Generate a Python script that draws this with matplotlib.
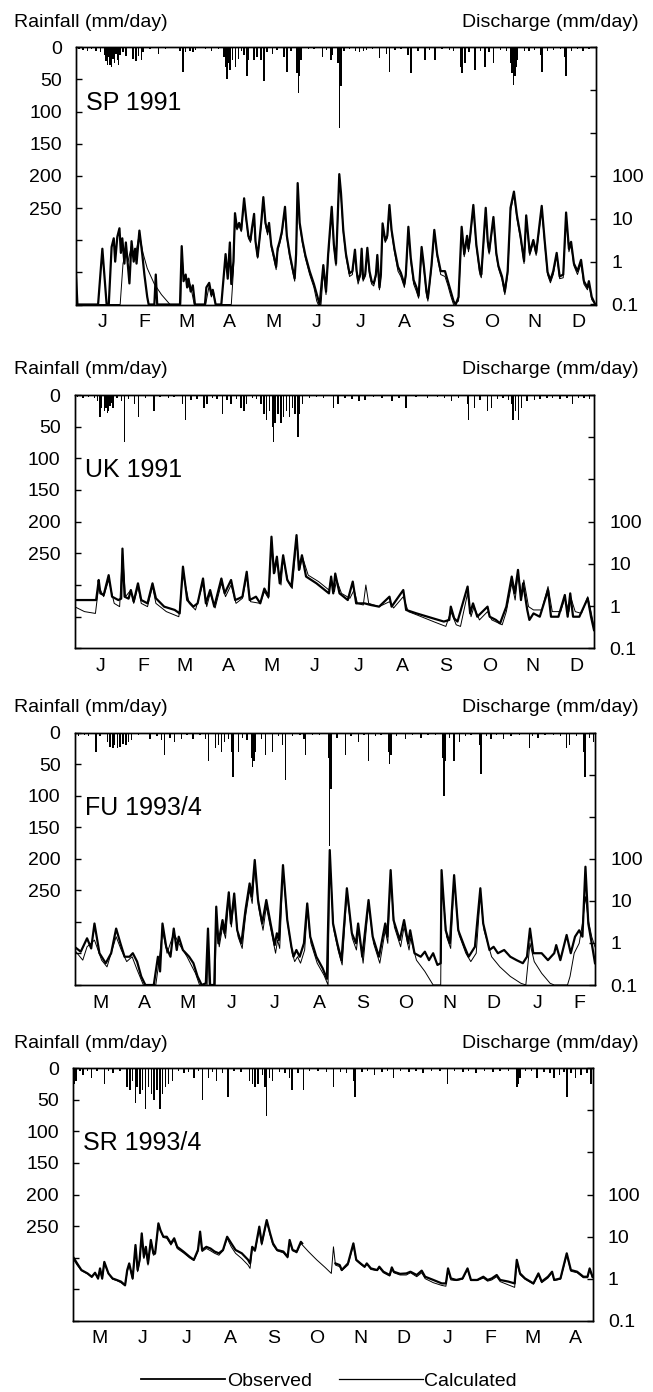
import numpy as np
import matplotlib.pyplot as plt
from matplotlib.ticker import NullLocator
from matplotlib.lines import Line2D

plt.rcParams['font.family'] = ['Liberation Sans', 'DejaVu Sans']

# ---------------- data: (day, discharge mm/day) and (day, rainfall mm/day) ----------------
sp_obs = [(0, 0.5), (1, 0.1), (15.5, 0.1), (18.5, 2.0), (21.5, 0.1), (23, 0.1), (25, 2.2), (26.5, 3.5),
          (27.5, 1.0), (29, 3.8), (30.5, 6.0), (31.5, 1.6), (32.5, 3.5), (34, 0.9), (35, 2.8), (36, 1.2),
          (37.5, 0.31), (39, 3.0), (40.5, 1.0), (41.5, 2.0), (42.5, 0.9), (44.5, 5.3), (46.5, 1.5), (48, 0.5),
          (50, 0.15), (51, 0.1), (55, 0.1), (56, 0.5), (57, 0.1), (73, 0.1), (74.2, 2.3), (75.5, 0.35),
          (77, 0.5), (78, 0.25), (79, 0.4), (80.5, 0.2), (82, 0.28), (83.5, 0.1), (90.5, 0.1), (91.5, 0.25),
          (93.5, 0.32), (95, 0.17), (96, 0.22), (98, 0.1), (102, 0.1), (104, 0.6), (105, 1.5), (106.5, 0.4),
          (108, 2.8), (109, 0.3), (110.5, 1.0), (111.6, 13.5), (113, 6), (114.5, 8), (116, 5.5), (118, 30),
          (119.5, 10), (121, 4), (122.5, 3.2), (123.5, 6), (125, 13), (126, 3), (127.5, 1.3), (129, 4),
          (130, 8), (131.5, 32), (133, 8), (134.5, 5), (135.5, 8), (137, 2.5), (139, 1.3), (140.5, 0.76),
          (141.5, 2), (143, 3), (144.5, 5), (146.7, 19), (148, 4), (150, 1.5), (152, 0.7), (153.5, 0.41),
          (154.5, 1.5), (155.6, 68), (157, 8), (159, 3), (161, 1.4), (164, 0.6), (167, 0.3), (170, 0.13),
          (171, 0.1), (173.6, 0.83), (175.5, 0.2), (177, 1.5), (179.5, 19), (181, 2.5), (182.5, 0.9),
          (184.8, 110), (186, 40), (187.6, 5.5), (189.5, 1.5), (192, 0.53), (194, 0.6), (195.8, 1.9),
          (197, 0.6), (198, 0.37), (199.5, 0.5), (200.5, 2.0), (201.5, 0.4), (203, 0.5), (204.5, 2.1),
          (206, 0.6), (207.5, 0.35), (209, 0.31), (210.5, 0.5), (211.5, 1.43), (213, 0.25), (214, 0.5),
          (215.2, 7.8), (217, 3.2), (218.5, 4.0), (220, 21), (221.5, 5.5), (223.5, 2.0), (226, 0.76),
          (228, 0.55), (230.5, 0.3), (231.5, 0.5), (233.3, 6.5), (235, 1.2), (237, 0.37), (239, 0.25),
          (240.5, 0.16), (242.6, 2.2), (244, 0.9), (246, 0.2), (247, 0.14), (249.5, 0.8), (251.5, 5.5),
          (253.5, 1.5), (256, 0.6), (259, 0.6), (261, 0.35), (263, 0.2), (265, 0.12), (266.5, 0.1),
          (268.5, 0.15), (270.7, 6.5), (272.5, 1.5), (274.5, 4.0), (275.5, 2.0), (276.5, 3.5), (278.9, 21),
          (281, 2.5), (283.5, 0.6), (284.5, 0.5), (287.6, 18), (289, 3), (290, 1.7), (293, 11), (295, 1.6),
          (296.5, 0.8), (299, 0.45), (301, 0.2), (303, 0.6), (305, 18), (307.4, 43), (309.5, 12), (312, 4),
          (314.5, 1.03), (316, 12), (318.5, 1.6), (321, 3.2), (323, 1.6), (326.9, 20), (329, 3), (331, 0.57),
          (333, 0.37), (335, 0.6), (337.4, 1.6), (339.5, 0.45), (342, 0.5), (344, 14), (346, 2.0),
          (347.5, 2.9), (349.5, 0.9), (352, 0.6), (354.5, 1.1), (356.5, 0.35), (359, 0.25), (360, 0.35),
          (362, 0.15), (364.5, 0.1)]

sp_calc = [(0, 0.1), (31, 0.1), (33, 0.9), (35, 1.8), (36.5, 1.0), (39, 2.4), (40.5, 1.1), (42, 1.6),
           (44.5, 4.5), (47, 1.6), (50, 0.7), (55, 0.3), (60, 0.17), (66, 0.1), (73.5, 0.1), (74.3, 1.8),
           (75.5, 0.4), (77, 0.45), (78.5, 0.25), (80, 0.3), (81.5, 0.18), (83, 0.1), (91, 0.1), (93.5, 0.28),
           (95, 0.15), (96.5, 0.2), (98, 0.1), (109, 0.1), (110.5, 0.6), (111.6, 11), (113, 5.5), (114.5, 7),
           (116, 5), (118, 26), (119.5, 9), (121, 3.5), (122.5, 2.8), (123.5, 5), (125, 11), (126, 2.7),
           (127.5, 1.2), (129, 3.5), (130, 7), (131.5, 28), (133, 7), (134.5, 4.2), (135.5, 7), (137, 2.2),
           (139, 1.1), (140.5, 0.65), (141.5, 1.7), (143, 2.6), (144.5, 4.3), (146.7, 16), (148, 3.6),
           (150, 1.3), (152, 0.6), (153.5, 0.35), (154.5, 1.2), (155.6, 60), (157, 7), (159, 2.6), (161, 1.2),
           (164, 0.5), (167, 0.25), (169, 0.12), (170, 0.1), (172, 0.1), (173.6, 0.6), (175.5, 0.17),
           (177, 1.2), (179.5, 16), (181, 2.2), (182.5, 0.8), (184.8, 95), (186, 35), (187.6, 4.8),
           (189.5, 1.3), (192, 0.45), (194, 0.5), (195.8, 1.6), (197, 0.5), (198, 0.3), (199.5, 0.45),
           (200.5, 1.7), (201.5, 0.35), (203, 0.45), (204.5, 1.8), (206, 0.5), (207.5, 0.3), (209, 0.27),
           (210.5, 0.45), (211.5, 1.2), (213, 0.22), (214, 0.45), (215.2, 7), (217, 2.8), (218.5, 3.5),
           (220, 18), (221.5, 4.8), (223.5, 1.7), (226, 0.6), (228, 0.45), (230.5, 0.25), (231.5, 0.45),
           (233.3, 5.5), (235, 1.0), (237, 0.3), (239, 0.2), (240.5, 0.14), (242.6, 1.8), (244, 0.75),
           (246, 0.17), (247, 0.12), (249.5, 0.7), (251.5, 4.8), (253.5, 1.3), (256, 0.5), (259, 0.45),
           (261, 0.28), (263, 0.16), (265, 0.1), (268.5, 0.12), (270.7, 5.5), (272.5, 1.3), (274.5, 3.4),
           (275.5, 1.7), (276.5, 3.0), (278.9, 18), (281, 2.2), (283.5, 0.5), (284.5, 0.42), (287.6, 15),
           (289, 2.6), (290, 1.5), (293, 9.5), (295, 1.4), (296.5, 0.7), (299, 0.38), (301, 0.17), (303, 0.5),
           (305, 15), (307.4, 38), (309.5, 10), (312, 3.4), (314.5, 0.9), (316, 10), (318.5, 1.4), (321, 2.8),
           (323, 1.4), (326.9, 17), (329, 2.6), (331, 0.5), (333, 0.32), (335, 0.5), (337.4, 1.4),
           (339.5, 0.4), (342, 0.42), (344, 12), (346, 1.7), (347.5, 2.5), (349.5, 0.8), (352, 0.5),
           (354.5, 0.9), (356.5, 0.3), (359, 0.22), (360, 0.3), (362, 0.13), (364.5, 0.1)]

sp_rain = [(2, 3), (5, 4), (8, 6), (11, 3), (14, 5), (17, 8), (20, 12), (21, 22), (22, 28), (23, 15),
           (24, 27), (25, 30), (26, 18), (27, 25), (28, 10), (29, 20), (30, 28), (31, 12), (33, 8), (35, 14),
           (40, 18), (42, 22), (44, 14), (46, 20), (47, 8), (52, 3), (58, 10), (63, 2), (73, 5), (75, 38),
           (77, 8), (80, 6), (82, 8), (84, 4), (91, 3), (95, 5), (100, 2), (104, 15), (105, 30), (106, 50),
           (107, 25), (108, 35), (110, 20), (112, 30), (114, 18), (116, 6), (118, 12), (120, 45), (121, 20),
           (125, 20), (127, 15), (130, 20), (132, 53), (134, 8), (138, 10), (141, 4), (146, 15), (148, 38),
           (151, 5), (155, 40), (156, 71), (157, 45), (158, 20), (163, 3), (167, 2), (173, 15), (176, 4),
           (179, 20), (180, 12), (184, 25), (185, 126), (186, 60), (188, 6), (192, 3), (196, 6), (199, 8),
           (202, 5), (204, 4), (208, 3), (213, 17), (218, 10), (220, 38), (224, 4), (228, 3), (233, 12),
           (235, 40), (240, 5), (245, 20), (248, 4), (252, 20), (257, 3), (262, 4), (265, 6), (270, 30),
           (271, 40), (273, 25), (276, 8), (280, 35), (284, 6), (287, 30), (290, 8), (293, 25), (298, 4),
           (302, 5), (305, 25), (306, 40), (307, 58), (308, 45), (309, 30), (310, 20), (315, 6), (318, 5),
           (322, 4), (326, 12), (327, 38), (331, 5), (335, 4), (340, 3), (343, 15), (344, 45), (348, 6),
           (352, 3), (356, 5), (360, 3)]

uk_obs = [(0, 1.39), (15.2, 1.39), (16.4, 2.8), (17, 4.15), (18.2, 2.0), (20.5, 1.83), (24, 5.4),
          (26.4, 1.67), (30.8, 1.39), (32.8, 1.5), (33.7, 23), (35.2, 1.67), (38, 1.5), (39.6, 2.4),
          (41.6, 1.27), (44.6, 3.46), (46.9, 1.39), (51.3, 1.16), (54.8, 3.46), (57.2, 1.53), (63, 0.97),
          (70.4, 0.81), (73.9, 0.67), (76.2, 8.6), (79.2, 1.39), (83.5, 0.97), (86.5, 1.16), (90.3, 4.5),
          (92.3, 1.16), (95.3, 2.4), (98.2, 0.97), (103.2, 4.5), (105.5, 2.0), (110, 4.15), (112.9, 1.39),
          (115.8, 1.53), (118, 1.67), (121, 6.5), (123.1, 1.39), (127.5, 1.67), (130.5, 1.16), (133.4, 2.6),
          (136.3, 1.67), (138.4, 44), (140.1, 6.0), (142.2, 14.8), (144.2, 3.46), (146.6, 16), (149.5, 4.15),
          (152.4, 2.9), (156, 48), (157.7, 7.2), (159.8, 16), (162.7, 5.0), (170, 3.46), (178.8, 2.0),
          (180.3, 5.0), (181.8, 2.0), (183.2, 5.9), (186.2, 2.0), (192, 1.39), (195.5, 3.8), (197.9, 1.16),
          (203.8, 1.16), (208.2, 1.06), (214, 0.97), (221.3, 1.67), (222.8, 0.97), (231, 2.4), (233, 0.81),
          (240.4, 0.67), (252.1, 0.51), (259.5, 0.43), (263.3, 0.47), (264.4, 0.97), (266.8, 0.51),
          (269.1, 0.43), (276.2, 2.9), (278, 0.67), (280, 1.16), (283, 0.56), (290.2, 0.97), (291.7, 0.56),
          (296.1, 0.47), (299, 0.39), (303.4, 0.97), (307.2, 5.0), (309.3, 2.0), (311.6, 7.2), (313.7, 1.39),
          (315.2, 3.46), (318.1, 0.81), (319.6, 0.47), (322.5, 0.67), (326.9, 0.56), (332.7, 2.4),
          (334.8, 0.56), (340, 0.56), (344.5, 1.83), (346.5, 0.56), (348.3, 2.0), (350.3, 0.56), (354.7, 0.56),
          (360.6, 1.53), (362.9, 0.56), (365, 0.27)]

uk_calc = [(0, 0.97), (7, 0.74), (14.7, 0.67), (17, 2.9), (20.5, 1.67), (24, 4.15), (27.9, 1.16),
           (31.7, 0.97), (33.7, 18), (35.8, 1.67), (39.6, 2.4), (41.6, 1.16), (44.6, 2.9), (46.9, 1.16),
           (51.3, 0.97), (54.8, 2.9), (57.2, 1.16), (64.5, 0.74), (73.3, 0.56), (76.2, 5.9), (80.6, 1.16),
           (85, 0.81), (90.3, 3.46), (92.9, 0.97), (95.3, 2.0), (98.8, 0.9), (103.2, 3.46), (106.1, 1.67),
           (110, 3.16), (113.5, 1.16), (118, 1.53), (121, 5.0), (123.7, 1.27), (130.5, 1.16), (133.4, 2.2),
           (136.3, 1.53), (138.4, 31), (140.7, 6), (142.2, 12), (145.1, 3.16), (146.6, 13), (150.1, 3.8),
           (153, 2.6), (156, 37), (158.3, 7.2), (160.1, 14.8), (164.2, 5.4), (171.5, 3.8), (178.8, 2.4),
           (180.3, 4.5), (182.6, 2.2), (184.1, 4.15), (187.6, 2.0), (193.5, 1.53), (196.4, 2.4),
           (198.8, 1.16), (202.9, 1.06), (204.7, 3.16), (206.7, 1.16), (214, 0.97), (221.3, 1.27),
           (224.2, 0.9), (231, 1.67), (234.5, 0.74), (240.4, 0.62), (252.1, 0.43), (260.9, 0.33),
           (264.4, 0.74), (268.2, 0.36), (271.2, 0.33), (276.2, 2.0), (278.6, 0.56), (280.7, 0.97),
           (284.5, 0.47), (290.2, 0.74), (293.2, 0.47), (300.5, 0.36), (303.4, 0.74), (307.2, 3.46),
           (309.6, 1.39), (311.6, 6.0), (314.2, 1.67), (315.7, 4.15), (319, 0.97), (322.5, 0.81),
           (328.3, 0.81), (332.7, 2.9), (335.7, 0.74), (341.6, 0.74), (344.5, 1.53), (347.4, 0.74),
           (348.9, 1.53), (351.8, 0.74), (356.2, 0.67), (360.6, 1.67), (362.9, 0.74), (365, 0.33)]

uk_rain = [(2, 3), (6, 4), (10, 3), (14, 5), (16, 10), (18, 35), (19, 20), (21, 25), (22, 20), (23, 28),
           (24, 25), (25, 18), (26, 12), (27, 20), (30, 5), (33, 10), (35, 74), (38, 6), (42, 15), (45, 35),
           (50, 4), (56, 25), (60, 3), (66, 4), (70, 3), (76, 15), (78, 40), (82, 8), (86, 6), (91, 20),
           (93, 15), (97, 5), (100, 6), (104, 30), (107, 8), (110, 15), (114, 6), (117, 20), (119, 25),
           (121, 15), (125, 4), (128, 6), (131, 15), (133, 30), (135, 40), (137, 25), (139, 50), (140, 74),
           (141, 45), (143, 30), (145, 45), (147, 35), (149, 25), (151, 35), (153, 20), (155, 30), (157, 66),
           (158, 30), (160, 15), (165, 4), (170, 3), (175, 5), (182, 20), (185, 15), (190, 4), (195, 6),
           (200, 10), (204, 8), (210, 3), (216, 5), (223, 10), (228, 4), (233, 20), (240, 3), (248, 4),
           (255, 3), (260, 5), (265, 10), (270, 4), (276, 15), (277, 40), (281, 20), (285, 8), (290, 25),
           (293, 20), (297, 6), (301, 5), (305, 8), (307, 15), (308, 40), (310, 25), (312, 40), (314, 20),
           (318, 10), (323, 8), (327, 6), (332, 5), (336, 4), (341, 6), (346, 5), (350, 15), (354, 5),
           (358, 4), (362, 6)]

fu_obs = [(0, 0.81), (4.4, 0.62), (8.8, 1.29), (11.7, 0.74), (14, 2.9), (17.5, 0.57), (21.9, 0.33),
          (25.7, 0.57), (29.2, 2.2), (32.2, 0.98), (35.1, 0.47), (38.6, 0.47), (40.9, 0.57), (43.9, 0.36),
          (46.8, 0.16), (49.7, 0.1), (55.6, 0.1), (58.5, 0.47), (60, 0.21), (61.7, 2.9), (64.3, 0.81),
          (67.3, 0.47), (69.6, 2.2), (71.7, 0.68), (73.1, 1.41), (76, 0.68), (80.4, 0.47), (83.4, 0.33),
          (86.3, 0.16), (89.2, 0.1), (92.1, 0.11), (93.6, 2.2), (95.1, 0.1), (98, 0.1), (99.4, 7.3),
          (100.9, 0.98), (103.8, 3.5), (105.3, 1.7), (108.2, 16), (109.7, 2.9), (112, 15), (114.1, 2.0),
          (117, 0.98), (119.9, 6.1), (122.8, 26), (124.3, 12.6), (126.4, 94), (128.7, 10.5), (131.6, 2.9),
          (134.5, 10.5), (137.5, 2.9), (140.4, 0.89), (141.9, 1.7), (143.3, 1.17), (146.2, 71), (149.2, 3.5),
          (152.1, 0.81), (153.6, 0.47), (155.6, 0.68), (157.9, 0.47), (160.9, 0.98), (163.2, 8.7),
          (165.3, 1.41), (169.6, 0.47), (174, 0.25), (177, 0.14), (179, 162), (181.3, 2.9), (184.3, 0.98),
          (187.2, 0.39), (191, 20), (194.5, 1.7), (197.4, 0.98), (198.9, 2.9), (201.8, 0.47), (206.2, 10.5),
          (209.1, 1.41), (213.5, 0.47), (217.9, 2.9), (219.4, 1.41), (221.7, 54), (223.7, 3.5), (228.1, 1.17),
          (231.1, 3.5), (234, 0.98), (235.4, 2.0), (238.4, 0.57), (242.8, 0.47), (245.7, 0.62), (248.6, 0.39),
          (251.5, 0.57), (254.5, 0.3), (256.8, 0.33), (257.4, 54), (260.3, 2.0), (263.2, 0.98), (266.2, 41),
          (269.1, 2.0), (273.5, 0.81), (276.4, 0.47), (280.8, 0.81), (284.6, 20), (286.6, 2.9), (291, 0.68),
          (293.9, 0.81), (296.9, 0.57), (301.3, 0.68), (305.6, 0.47), (310, 0.39), (314.4, 0.33),
          (317.3, 0.47), (319.4, 2.2), (321.7, 0.57), (327.6, 0.57), (332, 0.39), (336.4, 0.57), (337.8, 0.89),
          (340.7, 0.39), (345.1, 1.55), (348, 0.57), (351, 1.41), (353.9, 2.0), (356.2, 1.41), (358.3, 65),
          (360.3, 2.9), (362.7, 0.98), (365, 0.33)]

fu_calc = [(0, 0.68), (5.8, 0.39), (8.8, 0.81), (14, 1.17), (19, 0.39), (22.8, 0.27), (29.2, 1.41),
           (32.8, 0.68), (36.6, 0.36), (40.4, 0.47), (43.9, 0.23), (48.3, 0.1), (57, 0.1), (59.1, 0.33),
           (61.7, 2.0), (64.9, 0.57), (69.6, 1.7), (73.1, 0.98), (78.9, 0.47), (84.8, 0.19), (87.7, 0.1),
           (93, 0.1), (93.6, 0.98), (94.5, 0.1), (98.6, 0.1), (99.4, 4.2), (101.5, 0.81), (103.8, 2.4),
           (105.9, 1.29), (108.2, 11.5), (110, 2.4), (112, 10.5), (114.7, 1.41), (117.6, 0.74), (119.9, 4.2),
           (122.8, 18), (124.6, 8.7), (126.4, 65), (129, 7.3), (132.2, 2.0), (134.5, 7.3), (138, 1.85),
           (141, 0.57), (142.4, 1.17), (143.9, 0.74), (146.2, 54), (149.8, 2.4), (152.7, 0.57), (154.4, 0.36),
           (156.4, 0.47), (158.5, 0.33), (161.4, 0.68), (163.2, 6.1), (165.8, 0.98), (170.2, 0.33),
           (175, 0.17), (177.8, 0.1), (179, 110), (181.6, 2.2), (184.8, 0.68), (187.7, 0.3), (191, 15),
           (194.8, 1.29), (197.7, 0.68), (199.2, 2.0), (202.4, 0.33), (206.2, 8), (209.7, 0.98), (214.1, 0.33),
           (217.9, 2.0), (219.7, 0.98), (221.7, 38), (224.3, 2.4), (228.7, 0.81), (231.1, 2.4), (234.6, 0.68),
           (235.7, 1.29), (239.8, 0.39), (245.7, 0.21), (251.5, 0.1), (256.8, 0.1), (257.4, 38), (260.9, 1.41),
           (263.8, 0.74), (266.2, 29), (269.7, 1.55), (274.4, 0.57), (277.9, 0.36), (281.7, 0.57), (284.6, 14),
           (287.2, 2.0), (292.5, 0.47), (298.3, 0.27), (305.6, 0.16), (313, 0.11), (316.5, 0.1), (319.4, 0.98),
           (322.4, 0.36), (327.6, 0.19), (333.5, 0.11), (336.4, 0.1), (345.7, 0.1), (347.5, 0.16),
           (350.4, 0.57), (353.9, 0.98), (356.2, 2.9), (358.3, 12.6), (360.3, 3.5), (362.7, 1.41), (365, 0.81)]

fu_rain = [(3, 5), (7, 4), (10, 6), (15, 30), (18, 5), (23, 15), (25, 22), (27, 25), (28, 20), (30, 25),
           (32, 22), (34, 18), (36, 20), (38, 15), (40, 12), (45, 4), (53, 10), (58, 5), (61, 12), (63, 35),
           (67, 8), (70, 15), (75, 10), (79, 4), (83, 10), (88, 3), (92, 10), (94, 45), (99, 25), (101, 20),
           (103, 30), (105, 15), (108, 10), (110, 30), (111, 70), (115, 30), (118, 8), (121, 12), (124, 40),
           (125, 55), (126, 45), (127, 30), (131, 10), (134, 35), (139, 30), (143, 6), (146, 20), (148, 75),
           (153, 5), (158, 4), (161, 10), (162, 35), (167, 4), (172, 3), (178, 40), (179, 180), (180, 90),
           (184, 8), (190, 35), (194, 5), (199, 15), (203, 4), (206, 45), (211, 5), (215, 3), (220, 30),
           (221, 50), (222, 35), (226, 5), (232, 10), (237, 4), (243, 8), (248, 3), (253, 4), (258, 40),
           (259, 100), (260, 45), (263, 8), (266, 45), (270, 15), (274, 6), (278, 4), (284, 20), (285, 65),
           (289, 5), (292, 10), (296, 4), (301, 10), (306, 5), (312, 4), (319, 25), (321, 6), (325, 8),
           (330, 3), (336, 4), (341, 5), (345, 25), (347, 20), (352, 5), (357, 30), (358, 70), (361, 8),
           (364, 15)]

sr_obs = [(0, 3.3), (2.9, 2.3), (5.9, 1.6), (10.2, 1.33), (13.2, 1.11), (15.5, 1.38), (17.6, 1.01),
          (19, 1.75), (20.5, 1.01), (22, 2.5), (24.9, 1.33), (27.8, 1.01), (30.7, 0.93), (33.7, 0.85),
          (36.6, 0.7), (38.1, 1.6), (39.5, 2.3), (41.9, 1.01), (43.9, 6.3), (45.4, 1.6), (46.8, 2.8),
          (48.3, 11.9), (49.8, 3.3), (51.2, 5.7), (52.7, 2.3), (54.7, 8.3), (56.5, 4.0), (57.7, 4.0),
          (60, 20.6), (61.5, 14), (63.5, 9.9), (65.9, 9.9), (68.8, 6.9), (71.1, 9.1), (73.2, 5.7), (77.6, 4.4),
          (82, 3.3), (84.9, 2.8), (87.8, 4.8), (89.3, 13.1), (90.7, 4.8), (93.7, 5.7), (96.6, 5.2),
          (99.5, 4.4), (102.5, 4.0), (105.4, 4.8), (108.3, 9.9), (111.2, 6.9), (114.2, 4.8), (118.6, 4.0),
          (123, 2.8), (124.4, 2.3), (125.9, 5.7), (127.9, 4.8), (130.9, 17.2), (132.6, 6.9), (136.1, 24.7),
          (138.5, 11.9), (140.5, 6.9), (143.4, 4.8), (147.8, 4.4), (150.8, 3.3), (152.2, 8.3), (154.3, 4.8),
          (157.2, 4.4), (160.1, 7.5), (161, 6.9), (161.5, np.nan), (184.4, 2.3), (187.4, 2.1), (188.8, 1.6),
          (193.2, 2.3), (197, 6.9), (199, 2.8), (202, 2.3), (204.9, 1.92), (206.4, 2.3), (209.3, 1.75),
          (213.7, 1.6), (215.2, 1.92), (218.1, 1.46), (222.5, 1.22), (224, 1.85), (225.4, 1.46), (229.8, 1.3),
          (234.2, 1.33), (237.1, 1.46), (241.5, 1.22), (245, 1.55), (247.4, 1.11), (253.2, 0.93),
          (259.1, 0.77), (262, 0.77), (263.5, 1.75), (265.5, 1.01), (269.3, 0.93), (273.7, 1.01),
          (277.2, 1.75), (279.6, 0.93), (284, 0.93), (288.3, 1.11), (291.3, 0.93), (294.2, 1.01),
          (297.7, 1.22), (300.1, 0.93), (305.9, 0.85), (310.3, 0.77), (311.8, 2.8), (314.1, 1.33),
          (317.6, 1.01), (323.5, 0.77), (327, 1.33), (329.3, 0.85), (333.7, 1.11), (336.6, 1.46),
          (338.1, 0.93), (342.5, 1.01), (346.9, 4.0), (349.8, 1.6), (354.2, 1.46), (358.6, 1.11),
          (361.5, 1.11), (363, 1.75), (365, 1.11)]

sr_calc = [(0, 3.0), (2.9, 2.1), (5.9, 1.55), (10.2, 1.3), (13.2, 1.07), (15.5, 1.33), (17.6, 0.97),
           (19, 1.6), (20.5, 0.97), (22, 2.3), (24.9, 1.3), (27.8, 0.97), (30.7, 0.9), (33.7, 0.8),
           (36.6, 0.67), (38.1, 1.46), (39.5, 2.1), (41.9, 0.97), (43.9, 5.7), (45.4, 1.46), (46.8, 2.5),
           (48.3, 10.9), (49.8, 3.0), (51.2, 5.2), (52.7, 2.1), (54.7, 7.5), (56.5, 3.6), (57.7, 3.8),
           (60, 18.8), (61.5, 13.5), (63.5, 9.5), (65.9, 9.1), (68.8, 6.3), (71.1, 8.3), (73.2, 5.2),
           (77.6, 4.1), (82, 3.1), (84.9, 2.7), (87.8, 4.4), (89.3, 11.9), (90.7, 4.4), (93.7, 5.2),
           (96.6, 4.6), (99.5, 4.0), (102.5, 3.6), (105.4, 4.6), (108.3, 9.1), (111.2, 5.7), (114.2, 4.0),
           (118.6, 3.0), (123, 2.1), (124.4, 1.75), (125.9, 5.2), (127.9, 4.4), (130.9, 15.7), (132.6, 6.3),
           (136.1, 22.5), (138.5, 10.9), (140.5, 6.3), (143.4, 4.6), (147.8, 4.1), (150.8, 3.1), (152.2, 7.5),
           (154.3, 4.6), (157.2, 4.1), (160.1, 6.9), (165.4, 4.4), (171.2, 2.8), (177.1, 1.85), (181.5, 1.33),
           (183, 5.7), (184.4, 2.1), (187.4, 1.92), (188.8, 1.55), (193.2, 2.1), (197, 6.3), (199, 2.7),
           (202, 2.2), (204.9, 1.85), (206.4, 2.2), (209.3, 1.65), (213.7, 1.55), (215.2, 1.8), (218.1, 1.38),
           (222.5, 1.15), (224, 1.7), (225.4, 1.38), (229.8, 1.22), (234.2, 1.22), (237.1, 1.38),
           (241.5, 1.11), (245, 1.38), (247.4, 1.0), (253.2, 0.8), (259.1, 0.69), (262, 0.66), (263.5, 1.6),
           (265.5, 0.93), (269.3, 0.9), (273.7, 0.97), (277.2, 1.65), (279.6, 0.9), (284, 0.9), (288.3, 1.03),
           (291.3, 0.87), (294.2, 0.93), (297.7, 1.11), (300.1, 0.85), (305.9, 0.71), (310.3, 0.62),
           (311.8, 2.5), (314.1, 1.24), (317.6, 0.97), (323.5, 0.74), (327, 1.24), (329.3, 0.8),
           (333.7, 1.03), (336.6, 1.38), (338.1, 0.9), (342.5, 0.97), (346.9, 3.6), (349.8, 1.5),
           (354.2, 1.38), (358.6, 1.05), (361.5, 1.05), (363, 1.65), (365, 1.05)]

sr_rain = [(0, 30), (1, 25), (2, 20), (5, 5), (7, 10), (10, 4), (13, 15), (17, 5), (22, 25), (25, 4),
           (28, 8), (33, 4), (38, 30), (40, 35), (42, 20), (44, 55), (45, 30), (47, 40), (49, 35), (51, 65),
           (53, 30), (55, 40), (57, 50), (59, 35), (61, 65), (63, 40), (65, 30), (67, 25), (70, 20), (74, 5),
           (78, 8), (81, 6), (85, 15), (88, 5), (91, 50), (95, 15), (98, 6), (101, 20), (105, 8), (109, 45),
           (113, 5), (118, 6), (124, 20), (126, 25), (128, 30), (130, 25), (133, 10), (135, 30), (136, 75),
           (138, 15), (140, 20), (145, 6), (149, 8), (152, 15), (154, 35), (158, 8), (162, 35), (166, 5),
           (172, 4), (178, 6), (183, 30), (188, 6), (192, 8), (197, 20), (198, 45), (203, 6), (207, 5),
           (212, 10), (217, 6), (221, 5), (225, 15), (230, 5), (236, 6), (241, 4), (246, 8), (252, 4),
           (258, 5), (263, 25), (268, 4), (274, 6), (278, 5), (283, 8), (289, 5), (295, 6), (300, 4),
           (306, 5), (312, 30), (313, 25), (314, 15), (318, 5), (322, 4), (326, 15), (331, 6), (335, 8),
           (338, 15), (342, 10), (345, 6), (347, 45), (350, 8), (353, 15), (357, 10), (361, 8), (364, 25)]

month_names = ['J', 'F', 'M', 'A', 'M', 'J', 'J', 'A', 'S', 'O', 'N', 'D']
month_len = [31, 28, 31, 30, 31, 30, 31, 31, 30, 31, 30, 31]

rain_ticks = list(range(0, 401, 50))
q_ticks = [0.1, 1, 10, 100, 1e3, 1e4, 1e5]
q_labels = ['0.1', '1', '10', '100', '', '', '']

# ---------------- layout (pixel boxes: left, right, top, bottom) ----------------
W, H = 653, 1392
panels = [
    dict(name='SP 1991', obs=sp_obs, calc=sp_calc, rain=sp_rain, start=0,
         box=(76, 596, 47.3, 304.5), label_y=0.756),
    dict(name='UK 1991', obs=uk_obs, calc=uk_calc, rain=uk_rain, start=0,
         box=(74.5, 594, 395, 648.3), label_y=0.676),
    dict(name='FU 1993/4', obs=fu_obs, calc=fu_calc, rain=fu_rain, start=2,
         box=(74.5, 595, 732.7, 985), label_y=0.674),
    dict(name='SR 1993/4', obs=sr_obs, calc=sr_calc, rain=sr_rain, start=4,
         box=(73, 592.5, 1068.3, 1320.7), label_y=0.676),
]

fig = plt.figure(figsize=(W / 100, H / 100), dpi=100)

for p in panels:
    l, r, t, b = p['box']
    ax = fig.add_axes([l / W, 1 - b / H, (r - l) / W, (b - t) / H])

    rd, rm = np.array(p['rain'], dtype=float).T
    ax.bar(rd, rm, width=1.0, color='black', linewidth=0)
    ax.set_xlim(0, 365)
    ax.set_ylim(400, 0)
    ax.set_yticks(rain_ticks)
    ax.set_yticklabels([str(v) if v <= 250 else '' for v in rain_ticks])
    ax.tick_params(axis='y', direction='in', length=4, width=1, pad=10, labelsize=14)

    # month labels, centred in each month
    order = [(p['start'] + k) % 12 for k in range(12)]
    lens = [month_len[i] for i in order]
    centres = np.cumsum([0] + lens[:-1]) + np.array(lens) / 2 + 3
    ax.set_xticks(centres)
    ax.set_xticklabels([month_names[i] for i in order])
    ax.tick_params(axis='x', length=0, pad=7, labelsize=14)

    ax2 = ax.twinx()
    ax2.set_yscale('log')
    ax2.set_ylim(0.1, 1e5)
    cd, cq = np.array(p['calc'], dtype=float).T
    od, oq = np.array(p['obs'], dtype=float).T
    ax2.plot(cd, cq, color='black', lw=0.7)
    ax2.plot(od, oq, color='black', lw=1.6)
    ax2.set_yticks(q_ticks)
    ax2.set_yticklabels(q_labels)
    ax2.yaxis.set_minor_locator(NullLocator())
    ax2.tick_params(axis='y', direction='in', length=4, width=1, pad=11, labelsize=14)

    for a in (ax, ax2):
        for s in a.spines.values():
            s.set_linewidth(1.0)

    ax.text(0.02, p['label_y'], p['name'], transform=ax.transAxes, fontsize=18,
            ha='left', va='baseline')
    fig.text(14 / W, 1 - (t - 25) / H, 'Rainfall (mm/day)', fontsize=14, ha='left', va='center')
    fig.text(639 / W, 1 - (t - 25) / H, 'Discharge (mm/day)', fontsize=14, ha='right', va='center')

handles = [Line2D([], [], color='black', lw=1.3), Line2D([], [], color='black', lw=0.9)]
fig.legend(handles, ['Observed', 'Calculated'], loc='center', bbox_to_anchor=(0.504, 1 - 1381 / H),
           ncol=2, frameon=False, fontsize=14, handlelength=4.3, handletextpad=0.1, columnspacing=1.4)

fig.savefig('out.png', dpi=100)
